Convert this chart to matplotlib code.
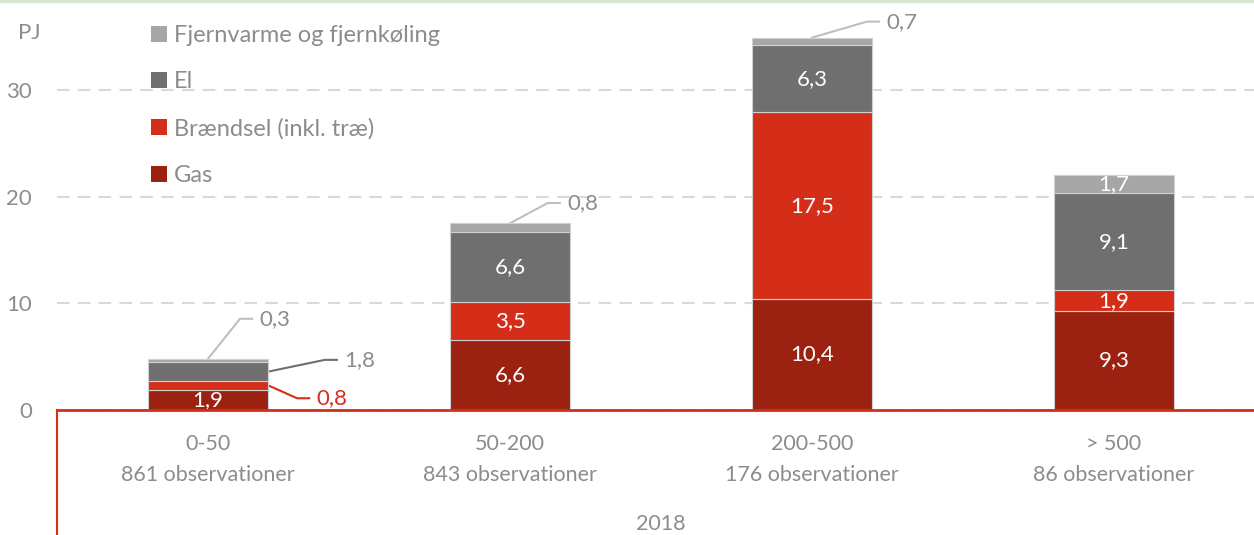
import matplotlib
matplotlib.use('Agg')
import matplotlib.pyplot as plt
from matplotlib.patches import Patch
from matplotlib.lines import Line2D
import numpy as np

# data
sizes = ['0-50', '50-200', '200-500', '> 500']
obs = [861, 843, 176, 86]
gas = [1.9, 6.6, 10.4, 9.3]
braendsel = [0.8, 3.5, 17.5, 1.9]
el = [1.8, 6.6, 6.3, 9.1]
fjernvarme = [0.3, 0.8, 0.7, 1.7]
series_names = ['Gas', 'Brændsel (inkl. træ)', 'El', 'Fjernvarme og fjernkøling']
colors = ['#9b2111', '#d42e19', '#6f6f6f', '#a6a6a6']

plt.rcParams['font.family'] = ['Lato', 'DejaVu Sans']
txt = '#8c8c8c'
fs = 16        # data labels
fs_tick = 15.5
fs_leg = 17

fig = plt.figure(figsize=(12.54, 5.35), dpi=100)
ax = fig.add_axes([57/1254, 125/535, 1 - 57/1254, 410/535])

x = np.arange(len(sizes))
w = 0.4
bottom = np.zeros(len(sizes))
series = [gas, braendsel, el, fjernvarme]
for vals, name, c in zip(series, series_names, colors):
    ax.bar(x, vals, w, bottom=bottom, color=c, edgecolor='#d0d0d0', linewidth=0.8,
           label=name, zorder=3)
    bottom += np.array(vals)

def fmt(v):
    return ('%.1f' % v).replace('.', ',')

# white labels inside bars
inside = [[True, True, True, True],
          [False, True, True, True],
          [False, True, True, True],
          [False, False, False, True]]
bottom = np.zeros(len(sizes))
for si, vals in enumerate(series):
    for i, v in enumerate(vals):
        if inside[si][i]:
            ax.text(x[i], bottom[i] + v / 2, fmt(v), ha='center', va='center',
                    color='white', fontsize=fs, zorder=4)
    bottom += np.array(vals)

# callouts for the thin segments
def callout(si, i, start, elbow, lc, tc):
    v = series[si][i]
    end = (elbow[0] + 0.04, elbow[1])
    ax.plot([start[0], elbow[0], end[0]], [start[1], elbow[1], end[1]],
            color=lc, lw=1.5, zorder=2, clip_on=False)
    ax.text(end[0] + 0.025, end[1], fmt(v), ha='left', va='center',
            color=tc, fontsize=fs)

cum = np.cumsum(np.array(series), axis=0)
callout(3, 0, (0, cum[3][0]), (0.106, 8.55), '#bfbfbf', txt)
callout(2, 0, (w / 2, cum[1][0] + el[0] / 2), (0.387, 4.7), '#6f6f6f', txt)
callout(1, 0, (w / 2, cum[0][0] + braendsel[0] / 2), (0.295, 1.1), '#d42e19', '#d42e19')
callout(3, 1, (1, cum[3][1]), (1.125, 19.4), '#bfbfbf', txt)
callout(3, 2, (2, cum[3][2]), (2.182, 36.4), '#bfbfbf', txt)

ax.set_xlim(-0.5, (1254 - 208) / 302)
ax.set_ylim(0, 410 / 10.67)
ax.set_yticks([0, 10, 20, 30])
ax.set_yticklabels(['0', '10', '20', '30'])
ax.set_xticks(x)
ax.set_xticklabels(['%s\n%d observationer' % (s, n) for s, n in zip(sizes, obs)],
                   linespacing=1.7)
ax.tick_params(axis='both', length=0, labelsize=fs_tick, labelcolor=txt)
ax.tick_params(axis='y', pad=18, labelsize=16)
ax.tick_params(axis='x', pad=17)

ax.grid(axis='y', color='#d9d9d9', linestyle=(0, (6, 4)), linewidth=1.5, zorder=0)
for s in ['top', 'right', 'left']:
    ax.spines[s].set_visible(False)
ax.spines['bottom'].set_color('#d42e19')
ax.spines['bottom'].set_linewidth(2)
ax.spines['bottom'].set_zorder(5)

# group separator
ax.plot([-0.5, -0.5], [0, -12], color='#d42e19', lw=1.5, clip_on=False)
ax.text(0.5 * (-0.5 + 3.5), -10.7, '2018', ha='center', va='center',
        color=txt, fontsize=fs_tick)

ax.text(-0.5 - 39 / 302, 35.3, 'PJ', ha='left', va='center', color=txt,
        fontsize=16, clip_on=False)

handles = [Patch(facecolor=c) for c in colors][::-1]
ax.legend(handles, series_names[::-1], loc='upper left',
          bbox_to_anchor=(151 / 1254, 1 - 25 / 535), bbox_transform=fig.transFigure,
          frameon=False, fontsize=fs_leg, labelcolor=txt, handlelength=0.68,
          handleheight=0.64, handletextpad=0.3, labelspacing=1.08, borderpad=0,
          borderaxespad=0)

fig.add_artist(Line2D([0, 1], [1 - 1 / 535, 1 - 1 / 535], color='#d8e4d0', lw=2.5,
                      transform=fig.transFigure))

fig.savefig('out.png', dpi=100)
